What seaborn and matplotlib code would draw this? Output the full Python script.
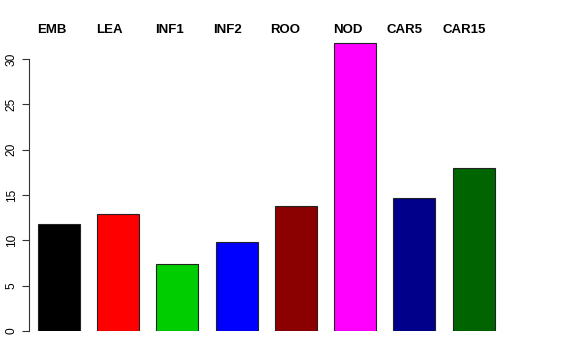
import matplotlib
matplotlib.use("Agg")
import matplotlib.pyplot as plt
import seaborn as sns
import pandas as pd

categories = ["EMB", "LEA", "INF1", "INF2", "ROO", "NOD", "CAR5", "CAR15"]
values = [11.8, 12.9, 7.4, 9.8, 13.8, 31.8, 14.7, 18.0]
colors = ["#000000", "#FF0000", "#00CD00", "#0000FF", "#8B0000", "#FF00FF", "#00008B", "#006400"]
yticks = [0, 5, 10, 15, 20, 25, 30]
# left edge of each top label, in category units
label_pos = [-0.371, 0.624, 1.619, 2.597, 3.558, 4.621, 5.531, 6.476]

sns.set_style("white")
plt.rcParams["font.family"] = ["Liberation Sans", "DejaVu Sans"]
plt.rcParams["text.color"] = "black"
plt.rcParams["ytick.color"] = "black"

df = pd.DataFrame({"cat": categories, "val": values})

fig = plt.figure(figsize=(5.76, 3.6), dpi=100)
ax = fig.add_axes([29 / 576, (360 - 331) / 360, (550 - 29) / 576, (331 - 36.3) / 360])

sns.barplot(data=df, x="cat", y="val", hue="cat", palette=colors, order=categories,
            hue_order=categories, legend=False, width=0.71, edgecolor="#222222",
            linewidth=0.8, saturation=1, ax=ax)

ax.set_xlim(-0.506, 8.29)
ax.set_ylim(0, 32.5)
ax.set_xlabel("")
ax.set_ylabel("")
ax.set_yticks(yticks)
ax.set_yticklabels([str(v) for v in yticks], rotation=90, va="center", fontsize=8.6, color="black")
for s in ["top", "right", "bottom"]:
    ax.spines[s].set_visible(False)
ax.spines["left"].set_bounds(0, 30)
ax.spines["left"].set_color("#333333")
ax.spines["left"].set_linewidth(0.8)
ax.tick_params(axis="y", left=True, length=5, width=0.8, color="#333333", pad=3)
ax.set_xticks([])

for x, name in zip(label_pos, categories):
    ax.text(x, 32.87, name, ha="left", va="baseline", fontweight="bold",
            fontsize=9.5, color="black", clip_on=False)

fig.savefig("out.png", dpi=100)
